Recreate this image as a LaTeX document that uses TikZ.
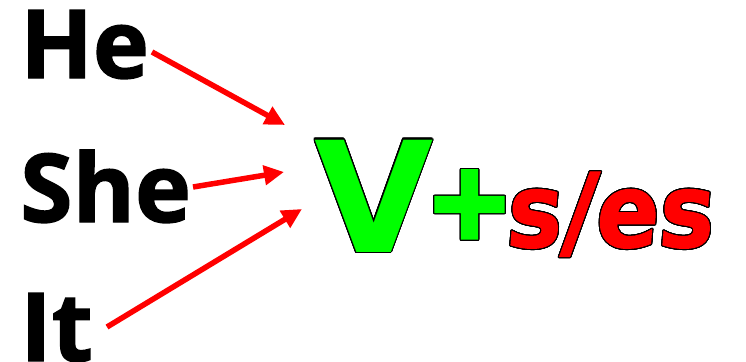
\documentclass[tikz,border=0pt]{standalone}
\usepackage{fontspec}
\usepackage[copies]{contour}
\usetikzlibrary{arrows.meta}
\newfontfamily\osb{Open Sans}
\newfontfamily\dvs{DejaVu Sans}
\newfontfamily\dvsc{DejaVu Sans Condensed}[FakeSlant=0.08]
\definecolor{vgreen}{rgb}{0,1,0}
\definecolor{vred}{rgb}{1,0,0}
\contourlength{1.1pt}
\contournumber{32}
\tikzset{
  pron/.style={inner sep=0pt, anchor=base west, font=\osb\bfseries\addfontfeatures{FakeBold=1.5}\fontsize{95}{95}\selectfont},
  arr/.style={draw=vred, line width=5.5pt, -{Triangle[length=20pt,width=19pt]}, shorten <=0pt}
}
\begin{document}
\begin{tikzpicture}[x=1pt,y=-1pt]
\useasboundingbox (0,0) rectangle (746,361);
\node[pron] (he) at (20,78) {He};
\node[pron] (she) at (20,222) {She};
\node[pron] (it) at (20,361) {It};
\node[inner sep=0pt, anchor=base west, font=\dvs\bfseries\fontsize{154}{154}\selectfont] (v) at (314,252) {\textcolor{vgreen}{\contour{black}{V}}};
\node[inner sep=0pt, anchor=center, font=\dvs\bfseries\addfontfeatures{FakeBold=5}\fontsize{104}{104}\selectfont] (plus) at (469.5,205) {\textcolor{vgreen}{\contour{black}{+}}};
\node[inner sep=0pt, anchor=base west, font=\dvsc\bfseries\addfontfeatures{FakeBold=1}\fontsize{103}{103}\selectfont] (ses) at (505,247) {\textcolor{vred}{\contour{black}{s/es}}};
\coordinate (s1) at (152,52);
\coordinate (t1) at (285,125);
\coordinate (s2) at (193,187);
\coordinate (t2) at (284,172);
\coordinate (s3) at (107,327);
\coordinate (t3) at (302,209);
\draw[arr] (s1) -- (t1);
\draw[arr] (s2) -- (t2);
\draw[arr] (s3) -- (t3);
\end{tikzpicture}
\end{document}
